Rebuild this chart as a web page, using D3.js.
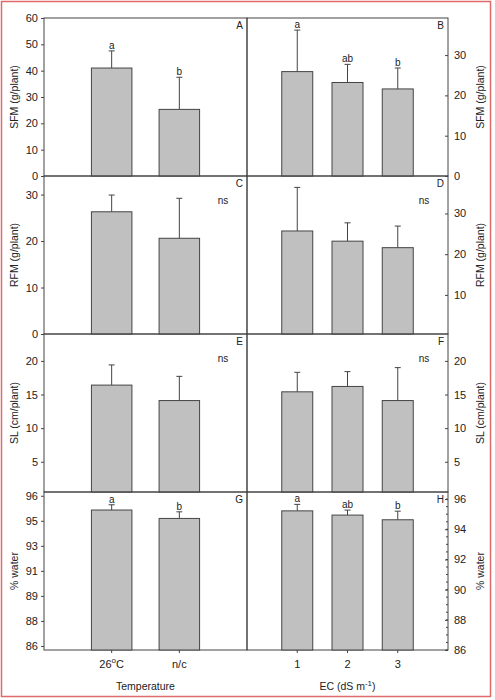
<!DOCTYPE html>
<html>
<head>
<meta charset="utf-8">
<script src="https://cdn.jsdelivr.net/npm/d3@7"></script>
<style>
  body { margin: 0; background: #fff; }
  svg { font-family: "Liberation Sans", Arial, sans-serif; }
  .tick text { fill: #222; }
</style>
</head>
<body>
<div id="chart"></div>
<script>
// Categories
const tempCats = ["26C", "n/c"];
const ecCats = ["1", "2", "3"];

// Means and errors
const sfmTemp = [41.0, 25.3], sfmTempErr = [6.5, 12.2], sfmTempSig = ["a", "b"];
const sfmEC = [25.9, 23.2, 21.6], sfmECErr = [10.3, 4.5, 5.2], sfmECSig = ["a", "ab", "b"];
const rfmTemp = [26.3, 20.6], rfmTempErr = [3.6, 8.6];
const rfmEC = [25.7, 23.2, 21.6], rfmECErr = [10.7, 4.5, 5.3];
const slTemp = [16.4, 14.1], slTempErr = [3.0, 3.6];
const slEC = [15.4, 16.2, 14.1], slECErr = [2.9, 2.2, 4.9];
const waterTemp = [95.05, 94.49], waterTempErr = [0.35, 0.44], waterTempSig = ["a", "b"];
const waterEC = [95.22, 94.94, 94.63], waterECErr = [0.43, 0.33, 0.57], waterECSig = ["a", "ab", "b"];

// Tick values / labels
const ticksA = [0, 10, 20, 30, 40, 50, 60];
const ticksB = [0, 10, 20, 30];
const ticksC = [0, 10, 20, 30];
const ticksD = [10, 20, 30];
const ticksEF = [5, 10, 15, 20];
const ticksGLabels = ["86", "88", "89", "91", "93", "95", "96"];
const ticksH = [86, 88, 90, 92, 94, 96];

const width = 495, height = 700;
const leftX = 44, midX = 247, rightX = 448;
const rowTop = [18, 176, 334, 492], rowH = 158;

const svg = d3.select("#chart").append("svg")
  .attr("width", width).attr("height", height);

// red outer border
svg.append("rect")
  .attr("x", 1.5).attr("y", 1.5)
  .attr("width", 489).attr("height", 695)
  .attr("fill", "none").attr("stroke", "#e06a6a").attr("stroke-width", 1.5);

const panels = [
  { id: "A", side: "left", row: 0, cats: tempCats, vals: sfmTemp, errs: sfmTempErr, sig: sfmTempSig,
    domain: [0, 60], ticks: ticksA, title: "SFM (g/plant)" },
  { id: "B", side: "right", row: 0, cats: ecCats, vals: sfmEC, errs: sfmECErr, sig: sfmECSig,
    domain: [0, 39.2], ticks: ticksB, title: "SFM (g/plant)" },
  { id: "C", side: "left", row: 1, cats: tempCats, vals: rfmTemp, errs: rfmTempErr, ns: true,
    domain: [0, 34], ticks: ticksC, title: "RFM (g/plant)" },
  { id: "D", side: "right", row: 1, cats: ecCats, vals: rfmEC, errs: rfmECErr, ns: true,
    domain: [0.4, 39.2], ticks: ticksD, title: "RFM (g/plant)" },
  { id: "E", side: "left", row: 2, cats: tempCats, vals: slTemp, errs: slTempErr, ns: true,
    domain: [0.5, 24], ticks: ticksEF, title: "SL (cm/plant)" },
  { id: "F", side: "right", row: 2, cats: ecCats, vals: slEC, errs: slECErr, ns: true,
    domain: [0.5, 24], ticks: ticksEF, title: "SL (cm/plant)" },
  { id: "G", side: "left", row: 3, cats: tempCats, vals: waterTemp, errs: waterTempErr, sig: waterTempSig,
    domain: [85.73, 96.25], ticks: ticksGLabels.map((d, i) => 86 + i * 10 / 6), labels: ticksGLabels,
    title: "% water" },
  { id: "H", side: "right", row: 3, cats: ecCats, vals: waterEC, errs: waterECErr, sig: waterECSig,
    domain: [86, 96.47], ticks: ticksH, minor: 0.5, title: "% water" }
];

panels.forEach(p => {
  const x0 = p.side === "left" ? leftX : midX;
  const x1 = p.side === "left" ? midX : rightX;
  const y0 = rowTop[p.row], y1 = y0 + rowH;
  const n = p.cats.length;

  const x = d3.scaleLinear().domain([0, n + 1]).range([x0, x1]);
  const y = d3.scaleLinear().domain(p.domain).range([y1, y0]);
  const bw = p.side === "left" ? 40.5 : 31;

  const g = svg.append("g");

  // frame
  g.append("rect")
    .attr("x", x0).attr("y", y0).attr("width", x1 - x0).attr("height", rowH)
    .attr("fill", "none").attr("stroke", "#444").attr("stroke-width", 1);

  // error bars
  p.vals.forEach((v, i) => {
    const cx = x(i + 1);
    g.append("line")
      .attr("x1", cx).attr("x2", cx)
      .attr("y1", y(v)).attr("y2", y(v + p.errs[i]))
      .attr("stroke", "#444").attr("stroke-width", 1);
    g.append("line")
      .attr("x1", cx - 3).attr("x2", cx + 3)
      .attr("y1", y(v + p.errs[i])).attr("y2", y(v + p.errs[i]))
      .attr("stroke", "#444").attr("stroke-width", 1);
  });

  // bars
  g.selectAll(".bar")
    .data(p.vals)
    .join("rect")
    .attr("class", "bar")
    .attr("x", (d, i) => x(i + 1) - bw / 2)
    .attr("y", d => y(d))
    .attr("width", bw)
    .attr("height", d => y1 - y(d))
    .attr("fill", "#c0c0c0")
    .attr("stroke", "#444")
    .attr("stroke-width", 1);

  // significance letters
  if (p.sig) {
    g.selectAll(".sig")
      .data(p.sig)
      .join("text")
      .attr("class", "sig")
      .attr("x", (d, i) => x(i + 1))
      .attr("y", (d, i) => y(p.vals[i] + p.errs[i]) - 2)
      .attr("text-anchor", "middle")
      .style("font-size", "10px")
      .style("fill", "#222")
      .text(d => d);
  }

  if (p.ns) {
    g.append("text")
      .attr("x", x1 - 24).attr("y", y0 + 28)
      .attr("text-anchor", "middle")
      .style("font-size", "10px").style("fill", "#222")
      .text("ns");
  }

  // panel letter
  g.append("text")
    .attr("x", x1 - 4).attr("y", y0 + 11)
    .attr("text-anchor", "end")
    .style("font-size", "10px").style("fill", "#222")
    .text(p.id);

  // y axis
  const axis = (p.side === "left" ? d3.axisLeft(y).tickSize(3).tickPadding(3)
                                  : d3.axisRight(y).tickSize(-3).tickPadding(6))
    .tickValues(p.ticks)
    .tickFormat((d, i) => p.labels ? p.labels[i] : d);

  const ag = g.append("g")
    .attr("transform", `translate(${p.side === "left" ? x0 : x1},0)`)
    .call(axis);
  ag.select(".domain").remove();
  ag.selectAll(".tick line").attr("stroke", "#444");
  ag.selectAll(".tick text").style("font-size", "11px").style("font-family", "Liberation Sans, Arial, sans-serif");

  if (p.minor) {
    const minorTicks = d3.range(p.domain[0], p.domain[1], p.minor);
    g.selectAll(".minor")
      .data(minorTicks)
      .join("line")
      .attr("class", "minor")
      .attr("x1", x1 - 2).attr("x2", x1)
      .attr("y1", d => y(d)).attr("y2", d => y(d))
      .attr("stroke", "#444");
  }

  // y title
  const tx = p.side === "left" ? 18 : 484;
  g.append("text")
    .attr("transform", `translate(${tx},${y0 + rowH / 2}) rotate(-90)`)
    .attr("text-anchor", "middle")
    .style("font-size", "10.5px").style("fill", "#222")
    .text(p.title);

  // x axis on bottom row
  if (p.row === 3) {
    p.cats.forEach((c, i) => {
      g.append("line")
        .attr("x1", x(i + 1)).attr("x2", x(i + 1))
        .attr("y1", y1).attr("y2", y1 + 3)
        .attr("stroke", "#444");
    });
    const labels = g.selectAll(".xlab")
      .data(p.cats)
      .join("text")
      .attr("class", "xlab")
      .attr("x", (d, i) => x(i + 1))
      .attr("y", y1 + 18)
      .attr("text-anchor", "middle")
      .style("font-size", "11px").style("fill", "#222");
    labels.each(function (d) {
      const t = d3.select(this);
      if (d === "26C") {
        t.append("tspan").text("26");
        t.append("tspan").attr("dy", -5).style("font-size", "8px").text("o");
        t.append("tspan").attr("dy", 5).text("C");
      } else {
        t.text(d);
      }
    });

    const xt = g.append("text")
      .attr("x", (x0 + x1) / 2).attr("y", y1 + 40)
      .attr("text-anchor", "middle")
      .style("font-size", "10.5px").style("fill", "#222");
    if (p.side === "left") {
      xt.text("Temperature");
    } else {
      xt.append("tspan").text("EC (dS m");
      xt.append("tspan").attr("dy", -4).style("font-size", "8px").text("-1");
      xt.append("tspan").attr("dy", 4).text(")");
    }
  }
});
</script>
</body>
</html>
